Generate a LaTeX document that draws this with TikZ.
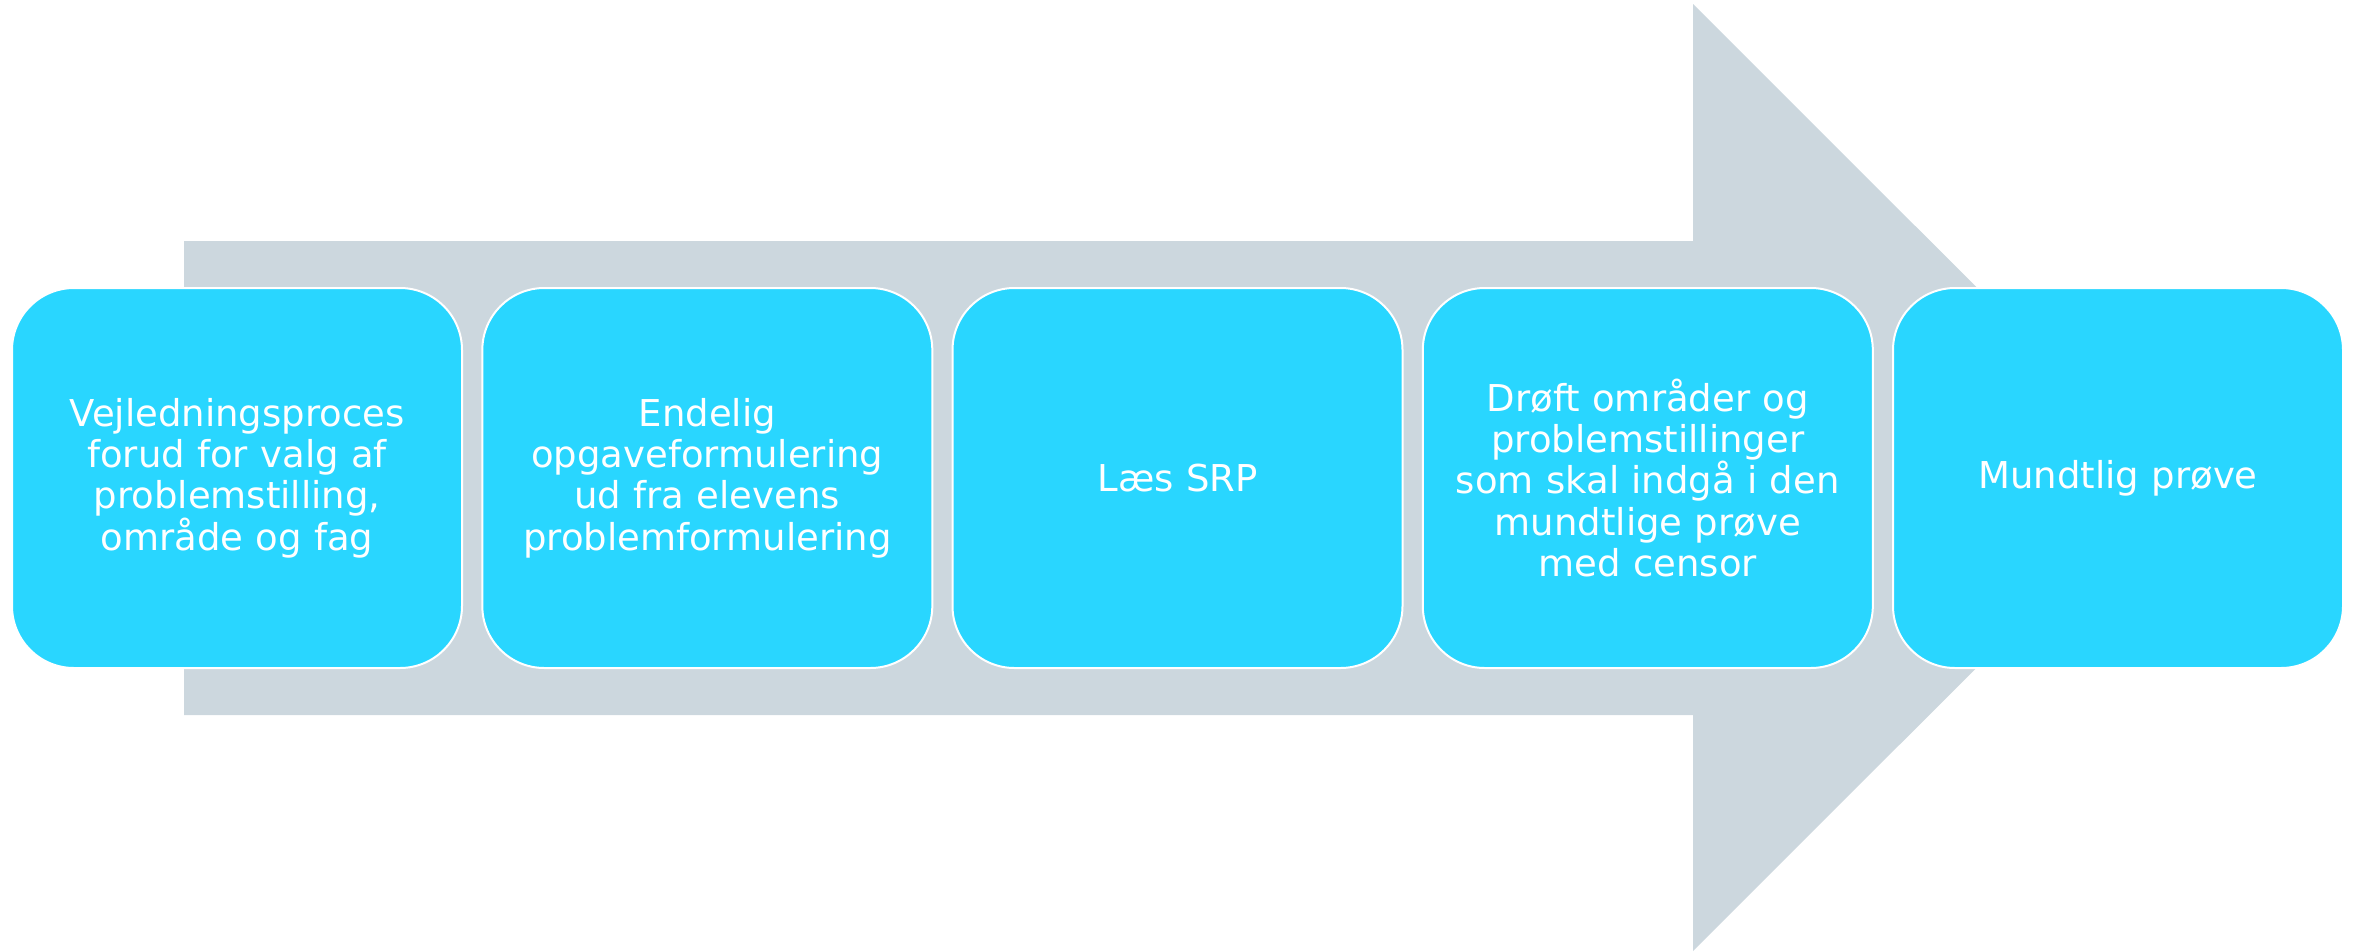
\documentclass[tikz,border=0pt]{standalone}
\usepackage{fontspec}
\setmainfont{DejaVu Sans}
\definecolor{arrowgray}{HTML}{CCD7DE}
\definecolor{boxcyan}{HTML}{29D6FF}
\begin{document}
\begin{tikzpicture}[x=1pt,y=-1pt,
  stepbox/.style={rectangle, rounded corners=62pt, fill=boxcyan, draw=white, line width=2pt,
    minimum width=450pt, minimum height=380pt, text width=440pt, align=center,
    text=white, font=\fontsize{37}{41.3}\selectfont, inner sep=0pt}]
\useasboundingbox (0,0) rectangle (2354,951);
\fill[arrowgray] (184,241) -- (1693,241) -- (1693,4) -- (2167,477.5) -- (1693,951) -- (1693,715) -- (184,715) -- cycle;
\node[stepbox] (b1) at (237,478) {Vejledningsproces\\forud for valg af\\problemstilling,\\område og fag};
\node[stepbox] (b2) at (707.3,478) {Endelig\\opgaveformulering\\ud fra elevens\\problemformulering};
\node[stepbox] (b3) at (1177.5,478) {Læs SRP};
\node[stepbox] (b4) at (1647.8,478) {Drøft områder og\\problemstillinger\\som skal indgå i den\\mundtlige prøve\\med censor};
\node[stepbox] (b5) at (2118,478) {Mundtlig prøve};
\end{tikzpicture}
\end{document}
